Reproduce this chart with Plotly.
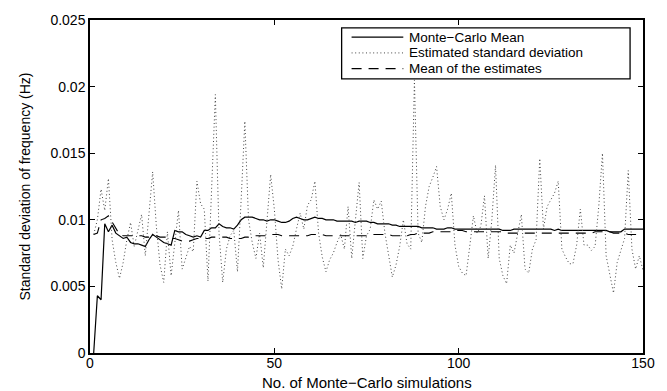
import plotly.graph_objects as go

# ---------------- data ----------------
sims = list(range(1, 151))

mc_mean = [
    0.0000, 0.0043, 0.0040, 0.0097, 0.0091, 0.0096, 0.0090, 0.0088, 0.0086, 0.0087,
    0.0083, 0.0082, 0.0082, 0.0081, 0.0080, 0.0085, 0.0089, 0.0087, 0.0085, 0.0083,
    0.0082, 0.0081, 0.0092, 0.0091, 0.0091, 0.0089, 0.0088, 0.0087, 0.0088, 0.0087,
    0.0092, 0.0092, 0.0094, 0.0094, 0.0097, 0.0095, 0.0094, 0.0094, 0.0093, 0.0096,
    0.0100, 0.0102, 0.0102, 0.0102, 0.0101, 0.0100, 0.0100, 0.0099, 0.0100, 0.0100,
    0.0099, 0.0098, 0.0098, 0.0099, 0.0101, 0.0102, 0.0101, 0.0100, 0.0100, 0.0101,
    0.0102, 0.0101, 0.0101, 0.0100, 0.0100, 0.0100, 0.0099, 0.0099, 0.0099, 0.0099,
    0.0099, 0.0098, 0.0099, 0.0099, 0.0099, 0.0098, 0.0098, 0.0097, 0.0097, 0.0097,
    0.0097, 0.0096, 0.0096, 0.0095, 0.0095, 0.0095, 0.0095, 0.0095, 0.0095, 0.0094,
    0.0094, 0.0094, 0.0094, 0.0093, 0.0093, 0.0093, 0.0094, 0.0094, 0.0093, 0.0093,
    0.0093, 0.0093, 0.0093, 0.0093, 0.0093, 0.0093, 0.0093, 0.0093, 0.0093, 0.0093,
    0.0093, 0.0092, 0.0092, 0.0092, 0.0093, 0.0093, 0.0093, 0.0093, 0.0093, 0.0093,
    0.0093, 0.0093, 0.0093, 0.0093, 0.0093, 0.0092, 0.0093, 0.0092, 0.0092, 0.0092,
    0.0092, 0.0092, 0.0092, 0.0092, 0.0092, 0.0092, 0.0092, 0.0092, 0.0092, 0.0092,
    0.0091, 0.0091, 0.0091, 0.0091, 0.0093, 0.0093, 0.0093, 0.0093, 0.0093, 0.0093,
]

est_std = [
    0.0089, 0.0100, 0.0123, 0.0107, 0.0131, 0.0085, 0.0068, 0.0056, 0.0068, 0.0085,
    0.0098, 0.0080, 0.0092, 0.0104, 0.0073, 0.0105, 0.0136, 0.0095, 0.0066, 0.0053,
    0.0091, 0.0058, 0.0085, 0.0107, 0.0063, 0.0072, 0.0080, 0.0076, 0.0129, 0.0112,
    0.0108, 0.0054, 0.0125, 0.0194, 0.0090, 0.0053, 0.0078, 0.0088, 0.0092, 0.0061,
    0.0115, 0.0174, 0.0100, 0.0083, 0.0071, 0.0090, 0.0064, 0.0100, 0.0134, 0.0108,
    0.0070, 0.0048, 0.0078, 0.0073, 0.0080, 0.0093, 0.0105, 0.0093, 0.0111, 0.0115,
    0.0129, 0.0090, 0.0072, 0.0061, 0.0070, 0.0075, 0.0083, 0.0089, 0.0078, 0.0110,
    0.0071, 0.0100, 0.0128, 0.0071, 0.0088, 0.0093, 0.0115, 0.0108, 0.0114, 0.0090,
    0.0073, 0.0057, 0.0066, 0.0080, 0.0100, 0.0082, 0.0078, 0.0205, 0.0090, 0.0083,
    0.0110, 0.0125, 0.0132, 0.0140, 0.0110, 0.0100, 0.0108, 0.0120, 0.0081, 0.0065,
    0.0060, 0.0058, 0.0080, 0.0103, 0.0090, 0.0095, 0.0118, 0.0071, 0.0100, 0.0141,
    0.0071, 0.0058, 0.0052, 0.0081, 0.0075, 0.0090, 0.0104, 0.0063, 0.0060, 0.0078,
    0.0085, 0.0146, 0.0093, 0.0110, 0.0115, 0.0120, 0.0129, 0.0078, 0.0072, 0.0067,
    0.0067, 0.0081, 0.0108, 0.0081, 0.0081, 0.0077, 0.0080, 0.0110, 0.0150, 0.0073,
    0.0059, 0.0045, 0.0068, 0.0078, 0.0086, 0.0137, 0.0078, 0.0063, 0.0073, 0.0062,
]

mean_est = [
    0.0089, 0.0090, 0.0100, 0.0101, 0.0103, 0.0098, 0.0093, 0.0089, 0.0088, 0.0088,
    0.0088, 0.0088, 0.0088, 0.0088, 0.0087, 0.0087, 0.0088, 0.0088, 0.0087, 0.0087,
    0.0087, 0.0086, 0.0086, 0.0085, 0.0084, 0.0084, 0.0084, 0.0085, 0.0086, 0.0086,
    0.0086, 0.0086, 0.0087, 0.0087, 0.0087, 0.0087, 0.0087, 0.0086, 0.0086, 0.0086,
    0.0086, 0.0087, 0.0087, 0.0088, 0.0088, 0.0088, 0.0088, 0.0088, 0.0089, 0.0089,
    0.0089, 0.0088, 0.0088, 0.0088, 0.0088, 0.0088, 0.0088, 0.0088, 0.0088, 0.0089,
    0.0089, 0.0089, 0.0089, 0.0088, 0.0088, 0.0088, 0.0088, 0.0088, 0.0088, 0.0088,
    0.0088, 0.0088, 0.0088, 0.0088, 0.0088, 0.0089, 0.0089, 0.0089, 0.0089, 0.0089,
    0.0089, 0.0088, 0.0088, 0.0088, 0.0088, 0.0088, 0.0089, 0.0089, 0.0090, 0.0090,
    0.0090, 0.0090, 0.0091, 0.0091, 0.0091, 0.0091, 0.0091, 0.0091, 0.0092, 0.0092,
    0.0092, 0.0091, 0.0091, 0.0091, 0.0091, 0.0091, 0.0091, 0.0091, 0.0091, 0.0091,
    0.0091, 0.0091, 0.0090, 0.0090, 0.0090, 0.0090, 0.0090, 0.0090, 0.0090, 0.0090,
    0.0090, 0.0090, 0.0090, 0.0090, 0.0090, 0.0090, 0.0090, 0.0090, 0.0090, 0.0090,
    0.0090, 0.0090, 0.0090, 0.0090, 0.0090, 0.0090, 0.0091, 0.0091, 0.0091, 0.0091,
    0.0091, 0.0090, 0.0090, 0.0090, 0.0090, 0.0089, 0.0089, 0.0089, 0.0089, 0.0089,
]

x_ticks = [0, 50, 100, 150]
y_ticks = [0, 0.005, 0.01, 0.015, 0.02, 0.025]
y_tick_labels = ["0", "0.005", "0.01", "0.015", "0.02", "0.025"]

series_names = ["Monte\u2212Carlo Mean", "Estimated standard deviation", "Mean of the estimates"]
x_title = "No. of Monte\u2212Carlo simulations"
y_title = "Standard deviation of frequency (Hz)"

# ---------------- styles ----------------
FONT = "Liberation Sans, Arial, Helvetica, sans-serif"
W, H = 667, 391
L, R, T, B = 90, 646, 14, 353  # plot area in px
styles = [
    dict(color="black", width=1.2, dash="solid"),
    dict(color="#444444", width=1, dash="1px,2.6px"),
    dict(color="black", width=1.1, dash="10px,7px"),
]

fig = go.Figure()
for name, ys, st in zip(series_names, [mc_mean, est_std, mean_est], styles):
    fig.add_trace(go.Scatter(x=sims, y=ys, mode="lines", name=name,
                             line=st, showlegend=False, hoverinfo="skip"))

axis_common = dict(
    showline=True, linecolor="black", linewidth=1.5, mirror="ticks",
    ticks="inside", ticklen=5, tickwidth=1, tickcolor="black",
    showgrid=False, zeroline=False,
    tickfont=dict(family=FONT, size=14, color="black"),
)

fig.update_layout(
    width=W, height=H,
    margin=dict(l=L, r=W - R, t=T, b=H - B, pad=0),
    paper_bgcolor="white", plot_bgcolor="white",
    xaxis=dict(range=[0, 150], tickvals=x_ticks, ticklabelstandoff=-4, **axis_common),
    yaxis=dict(range=[0, 0.025], tickvals=y_ticks, ticktext=y_tick_labels, **axis_common),
    showlegend=False,
)

def px_to_paper(px, py):
    return (px - L) / (R - L), (B - py) / (B - T)

# axis titles
fig.add_annotation(text=x_title, xref="paper", yref="paper", x=0.5, y=0,
                   yshift=-(382 - B), showarrow=False, yanchor="middle",
                   font=dict(family=FONT, size=15, color="black"))
fig.add_annotation(text=y_title, xref="paper", yref="paper", x=0, y=0.5,
                   xshift=-(L - 24), showarrow=False, textangle=-90, xanchor="center",
                   font=dict(family=FONT, size=14, color="black"))

# manual legend (box, sample lines, labels)
bx0, by0 = px_to_paper(343, 22)
bx1, by1 = px_to_paper(633, 74)
fig.add_shape(type="rect", xref="paper", yref="paper", x0=bx0, y0=by1, x1=bx1, y1=by0,
              line=dict(color="black", width=1.3), fillcolor="white", layer="above")
rows_py = [31.5, 47.5, 63.5]
for name, st, py in zip(series_names, styles, rows_py):
    lx0, ly = px_to_paper(353, py)
    lx1, _ = px_to_paper(405, py)
    fig.add_shape(type="line", xref="paper", yref="paper", x0=lx0, y0=ly, x1=lx1, y1=ly,
                  line=st, layer="above")
    tx, _ = px_to_paper(409, py)
    fig.add_annotation(text=name, xref="paper", yref="paper", x=tx, y=ly,
                       xanchor="left", yanchor="middle", showarrow=False,
                       font=dict(family=FONT, size=13.5, color="black"))

fig.write_html("out.html")
